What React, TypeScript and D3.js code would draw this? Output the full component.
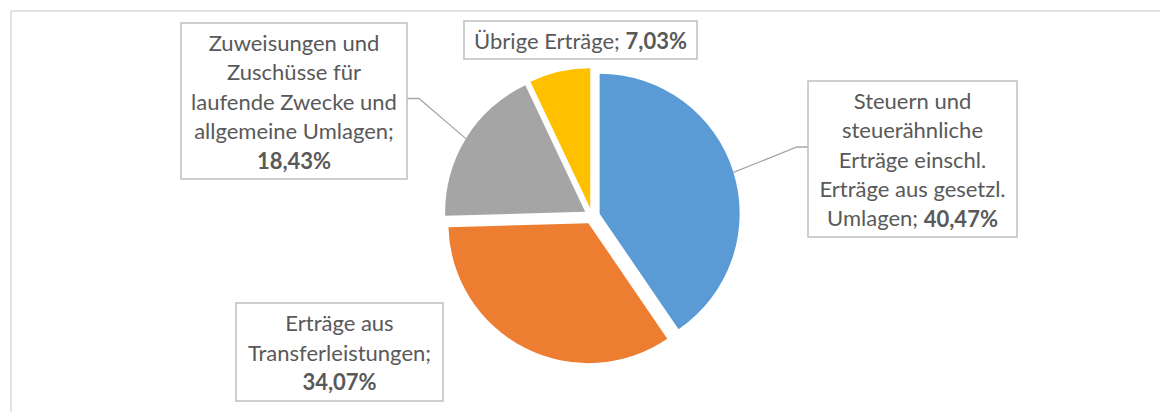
import React from "react";
import * as d3 from "d3";

// ---- data ----
const categories: string[] = [
  "Steuern und steuerähnliche Erträge einschl. Erträge aus gesetzl. Umlagen",
  "Erträge aus Transferleistungen",
  "Zuweisungen und Zuschüsse für laufende Zwecke und allgemeine Umlagen",
  "Übrige Erträge",
];
const shares: number[] = [40.47, 34.07, 18.43, 7.03];
const colors: string[] = ["#5B9BD5", "#ED7D31", "#A5A5A5", "#FFC000"];
// label line breaks; "{p}" is replaced by the bold percentage
const labelLines: string[][] = [
  ["Steuern und", "steuerähnliche", "Erträge einschl.", "Erträge aus gesetzl.", "Umlagen; {p}"],
  ["Erträge aus", "Transferleistungen;", "{p}"],
  ["Zuweisungen und", "Zuschüsse für", "laufende Zwecke und", "allgemeine Umlagen;", "{p}"],
  ["Übrige Erträge; {p}"],
];

// ---- layout ----
const W = 1160;
const H = 412;
const CX = 592;
const CY = 216;
const R = 140;
const EXPLODE = 8;
const LINE_H = 29.3;
const FONT = "Lato, 'Open Sans', sans-serif";
const FS = 22;
const TEXT_COLOR = "#595959";

const boxes = [
  { x: 808, y: 81, w: 209, h: 156, leader: { bendX: 797, y: 147, side: "left" } },
  { x: 236, y: 303, w: 207, h: 98, leader: null },
  { x: 181, y: 23, w: 226, h: 156, leader: { bendX: 419, y: 98.5, side: "right" } },
  { x: 464, y: 21, w: 233, h: 38, leader: null },
];

const fmtPct = (v: number) => d3.format(".2f")(v).replace(".", ",") + "%";

export default function App() {
  const pie = d3
    .pie<number>()
    .sort(null)
    .value((d) => d)
    .startAngle(0)
    .endAngle(2 * Math.PI);
  const arcs = pie(shares);
  const arcGen = d3.arc<d3.PieArcDatum<number>>().innerRadius(0).outerRadius(R);

  return (
    <svg
      width={W}
      height={H}
      style={{ position: "absolute", left: 0, top: 0, background: "#fff" }}
      fontFamily={FONT}
    >
      <rect x={0} y={0} width={W} height={H} fill="#fff" />
      <rect x={11} y={11} width={W + 40} height={H + 40} fill="none" stroke="#d9d9d9" strokeWidth={1.5} />
      {arcs.map((a, i) => {
        const mid = (a.startAngle + a.endAngle) / 2;
        const ox = EXPLODE * Math.sin(mid);
        const oy = -EXPLODE * Math.cos(mid);
        return (
          <g key={i} transform={`translate(${CX + ox},${CY + oy})`}>
            <path d={arcGen(a) || ""} fill={colors[i]} />
          </g>
        );
      })}
      {arcs.map((a, i) => {
        const b = boxes[i];
        if (!b.leader) return null;
        const mid = (a.startAngle + a.endAngle) / 2;
        const px = CX + (EXPLODE + R) * Math.sin(mid);
        const py = CY - (EXPLODE + R) * Math.cos(mid);
        const by = b.leader.y;
        const bx = b.leader.side === "left" ? b.x : b.x + b.w;
        return (
          <polyline
            key={"l" + i}
            points={`${px},${py} ${b.leader.bendX},${by} ${bx},${by}`}
            fill="none"
            stroke="#a6a6a6"
            strokeWidth={1.3}
          />
        );
      })}
      {boxes.map((b, i) => {
        const lines = labelLines[i];
        const y0 = b.y + (b.h - (lines.length - 1) * LINE_H) / 2;
        const cx = b.x + b.w / 2;
        return (
          <g key={"b" + i}>
            <rect x={b.x} y={b.y} width={b.w} height={b.h} fill="#fff" stroke="#bfbfbf" strokeWidth={1.5} />
            {lines.map((ln, j) => {
              const parts = ln.split("{p}");
              return (
                <text
                  key={j}
                  x={cx}
                  y={y0 + j * LINE_H}
                  textAnchor="middle"
                  dominantBaseline="central"
                  fontSize={FS}
                  fill={TEXT_COLOR}
                >
                  {parts[0]}
                  {parts.length > 1 && <tspan fontWeight="bold">{fmtPct(shares[i])}</tspan>}
                  {parts.length > 1 ? parts[1] : null}
                </text>
              );
            })}
          </g>
        );
      })}
    </svg>
  );
}
